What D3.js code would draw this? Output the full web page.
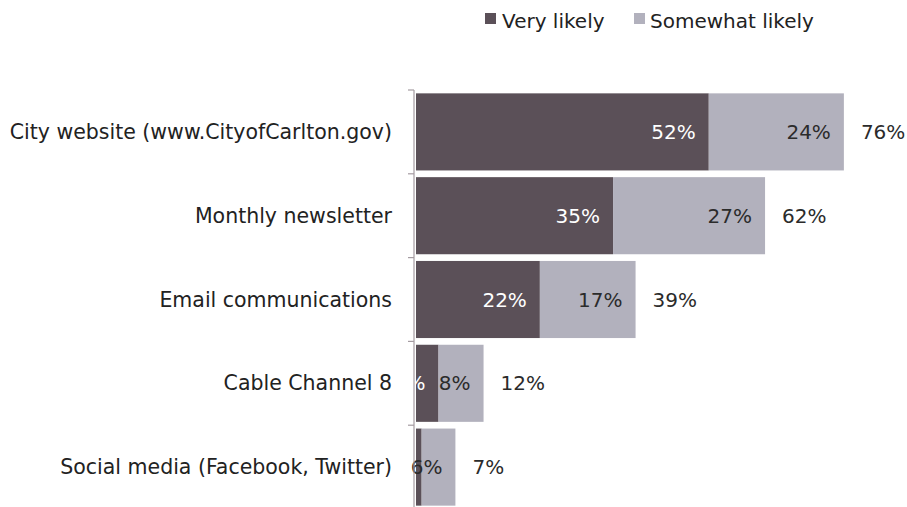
<!DOCTYPE html>
<html><head><meta charset="utf-8">
<script src="https://cdn.jsdelivr.net/npm/d3@7"></script>
<style>
html,body{margin:0;padding:0;background:#fff;}
text{font-family:"DejaVu Sans",Verdana,sans-serif;}
</style></head>
<body>
<svg id="chart" width="907" height="507"></svg>
<script>
const categories = ["City website (www.CityofCarlton.gov)","Monthly newsletter","Email communications","Cable Channel 8","Social media (Facebook, Twitter)"];
const veryLikely = [52, 35, 22, 4, 1];
const somewhatLikely = [24, 27, 17, 8, 6];
const totals = [76, 62, 39, 12, 7];
const seriesNames = ["Very likely","Somewhat likely"];
const colors = ["#5b5058","#b2b1bd"];

const svg = d3.select("#chart");
const x = d3.scaleLinear().domain([0, 100]).range([416, 416 + 563]);
const y = d3.scaleBand().domain(categories).range([90, 509]).paddingInner(0.08).paddingOuter(0.04);
const band = d3.scaleBand().domain(categories).range([90, 509]).padding(0);

const fs = 20;
const catFs = 20.5;
categories.forEach((c, i) => {
  const v = veryLikely[i], s = somewhatLikely[i];
  svg.append("rect").attr("x", x(0)).attr("y", y(c)).attr("width", x(v) - x(0)).attr("height", y.bandwidth()).attr("fill", colors[0]);
  svg.append("rect").attr("x", x(v)).attr("y", y(c)).attr("width", x(v + s) - x(v)).attr("height", y.bandwidth()).attr("fill", colors[1]);
  const cy = y(c) + y.bandwidth() / 2 + 7;
  if (v >= 2) svg.append("text").attr("x", x(v) - 13).attr("y", cy).attr("text-anchor", "end").attr("font-size", fs).attr("fill", "#fff").text(v + "%");
  svg.append("text").attr("x", x(v + s) - 13).attr("y", cy).attr("text-anchor", "end").attr("font-size", fs).attr("fill", "#2b2b2b").text(s + "%");
  svg.append("text").attr("x", x(v + s) + 17).attr("y", cy).attr("text-anchor", "start").attr("font-size", fs).attr("fill", "#2b2b2b").text(totals[i] + "%");
  svg.append("text").attr("x", 392).attr("y", cy).attr("text-anchor", "end").attr("font-size", catFs).attr("fill", "#222").text(c);
});

const axisG = svg.append("g");
axisG.append("line").attr("x1", 414).attr("x2", 414).attr("y1", 90).attr("y2", 509).attr("stroke", "#a59ca2").attr("stroke-width", 1.2);
const bounds = categories.map(c => band(c)).concat([band(categories[categories.length - 1]) + band.bandwidth()]);
bounds.forEach(b => axisG.append("line").attr("x1", 408).attr("x2", 414).attr("y1", b).attr("y2", b).attr("stroke", "#a59ca2").attr("stroke-width", 1.2));

const leg = [{x: 485, tx: 502}, {x: 634, tx: 650}];
seriesNames.forEach((n, i) => {
  svg.append("rect").attr("x", leg[i].x).attr("y", 13).attr("width", 11).attr("height", 11).attr("fill", colors[i]);
  svg.append("text").attr("x", leg[i].tx).attr("y", 28).attr("font-size", fs).attr("fill", "#222").text(n);
});
</script>
</body></html>
